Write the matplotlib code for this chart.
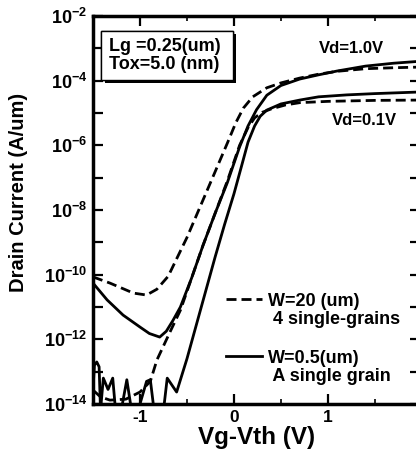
import numpy as np
import matplotlib
matplotlib.use('Agg')
import matplotlib.pyplot as plt
from matplotlib.lines import Line2D
from matplotlib.ticker import FixedLocator, MultipleLocator, FuncFormatter, NullLocator
import matplotlib.patheffects as pe

plt.rcParams['font.family'] = ['Liberation Sans', 'DejaVu Sans']
plt.rcParams['font.weight'] = 'bold'
plt.rcParams['mathtext.fontset'] = 'custom'
plt.rcParams['mathtext.rm'] = 'Liberation Sans:bold'
plt.rcParams['mathtext.it'] = 'Liberation Sans:bold'
plt.rcParams['mathtext.bf'] = 'Liberation Sans:bold'
plt.rcParams['axes.unicode_minus'] = False

# ---------------- data (Vg-Vth in V, log10 of drain current in A/um) ----------------
# W=0.5 um (single grain), Vd=1.0 V  -- solid
vg_s_hi = [-1.50, -1.35, -1.18, -1.00, -0.90, -0.79, -0.72, -0.65, -0.57, -0.45, -0.33,
           -0.20, -0.07, 0.06, 0.15, 0.24, 0.35, 0.50, 0.70, 0.90, 1.10, 1.40, 1.70, 1.98]
logI_s_hi = [-10.26, -10.78, -11.25, -11.62, -11.82, -11.93, -11.75, -11.42, -11.00, -10.10, -9.10,
             -8.10, -7.15, -6.05, -5.40, -4.90, -4.45, -4.15, -3.95, -3.82, -3.70, -3.55, -3.46, -3.40]

# W=20 um (4 single grains), Vd=1.0 V  -- dashed
vg_d_hi = [-1.50, -1.32, -1.07, -0.93, -0.82, -0.70, -0.60, -0.50, -0.36, -0.22, -0.07,
           0.02, 0.10, 0.20, 0.35, 0.50, 0.70, 0.90, 1.10, 1.40, 1.70, 1.98]
logI_d_hi = [-10.07, -10.26, -10.57, -10.63, -10.45, -10.05, -9.45, -8.85, -7.90, -6.95, -5.93,
             -5.30, -4.85, -4.50, -4.22, -4.07, -3.92, -3.80, -3.71, -3.63, -3.60, -3.58]

# W=0.5 um (single grain), Vd=0.1 V  -- solid (noisy off-state)
vg_s_lo = [-1.50, -1.485, -1.46, -1.435, -1.42, -1.39, -1.34, -1.29, -1.26, -1.20, -1.14, -1.09,
           -1.02, -0.93, -0.89, -0.85, -0.75, -0.71, -0.61, -0.50, -0.40, -0.30, -0.20, -0.10,
           0.00, 0.08, 0.15, 0.22, 0.28, 0.35, 0.50, 0.70, 0.90, 1.20, 1.50, 1.98]
logI_s_lo = [-13.55, -12.80, -12.70, -12.85, -14.20, -13.20, -13.55, -13.20, -14.20, -14.20, -13.25, -14.20,
             -14.20, -13.30, -13.25, -14.20, -14.20, -13.20, -13.63, -12.60, -11.55, -10.50, -9.45, -8.45,
             -7.50, -6.65, -5.90, -5.40, -5.10, -4.91, -4.72, -4.60, -4.50, -4.44, -4.40, -4.35]

# W=20 um (4 single grains), Vd=0.1 V  -- dashed
vg_d_lo = [-1.50, -1.42, -1.32, -1.15, -1.00, -0.89, -0.82, -0.68, -0.57, -0.45, -0.33, -0.20,
           -0.07, 0.06, 0.15, 0.22, 0.30, 0.40, 0.55, 0.70, 1.00, 1.50, 1.98]
logI_d_lo = [-13.57, -13.78, -13.88, -13.85, -13.63, -13.30, -12.64, -11.77, -11.10, -10.10, -9.10, -8.10,
             -7.10, -6.00, -5.45, -5.15, -4.98, -4.87, -4.75, -4.68, -4.64, -4.61, -4.60]

x_ticks = [-1, 0, 1, 2]
y_decades = list(range(-14, -1))

lbl_dashed = ["W=20 (um)", " 4 single-grains"]
lbl_solid = ["W=0.5(um)", " A single grain"]

# ---------------- figure ----------------
fig = plt.figure(figsize=(4.16, 4.54), dpi=100)
ax = fig.add_axes([93/416, 50/454, 327/416, 388/454])

lw = 2.0
dash = (0, (3.6, 1.8))
ax.plot(vg_s_hi, 10.0**np.array(logI_s_hi), color='black', lw=lw, ls='-')
l_d, = ax.plot(vg_d_hi, 10.0**np.array(logI_d_hi), color='black', lw=lw, ls=dash)
l_s, = ax.plot(vg_s_lo, 10.0**np.array(logI_s_lo), color='black', lw=lw, ls='-')
ax.plot(vg_d_lo, 10.0**np.array(logI_d_lo), color='black', lw=lw, ls=dash)

ax.set_yscale('log')
ax.set_xlim(-1.5, 1.98)
ax.set_ylim(1e-14, 1e-2)

ax.xaxis.set_major_locator(FixedLocator(x_ticks))
ax.xaxis.set_minor_locator(MultipleLocator(0.5))
ax.yaxis.set_major_locator(FixedLocator([10.0**e for e in y_decades]))
ax.yaxis.set_minor_locator(NullLocator())

def yfmt(v, pos):
    e = int(round(np.log10(v)))
    return r'$10^{%d}$' % e if e % 2 == 0 else ''
ax.yaxis.set_major_formatter(FuncFormatter(yfmt))
ax.xaxis.set_major_formatter(FuncFormatter(lambda v, p: '%d' % v))

ax.tick_params(which='major', direction='in', length=7, width=1.6, top=True, right=True)
ax.tick_params(which='minor', direction='in', length=3.5, width=1.2, top=True, right=True)
ax.tick_params(axis='y', labelsize=13, pad=4)
ax.tick_params(axis='x', labelsize=12.5, pad=4)
for lab in ax.get_xticklabels() + ax.get_yticklabels():
    lab.set_fontweight('bold')
for sp in ax.spines.values():
    sp.set_linewidth(2.5)

ax.set_ylabel('Drain Current (A/um)', fontsize=14.5, fontweight='bold')
ax.yaxis.set_label_coords(-0.2, 0.545)
ax.set_xlabel('Vg-Vth (V)', fontsize=17.5, fontweight='bold', labelpad=1)

# info box with shadow
t = ax.text(0.048, 0.943, 'Lg =0.25(um) \nTox=5.0 (nm)', transform=ax.transAxes,
            ha='left', va='top', fontsize=13, fontweight='bold', linespacing=1.05,
            bbox=dict(boxstyle='square,pad=0.4', fc='white', ec='black', lw=1.0))
t.get_bbox_patch().set_path_effects([
    pe.withSimplePatchShadow(offset=(2.2, -2.2), shadow_rgbFace='black', alpha=1.0),
    pe.Normal()])

ax.text(1.25, 10**-3.0, 'Vd=1.0V', ha='center', va='center', fontsize=12, fontweight='bold')
ax.text(1.39, 10**-5.22, 'Vd=0.1V', ha='center', va='center', fontsize=12, fontweight='bold')

blank = Line2D([], [], color='none')
common = dict(loc='upper left', frameon=False, fontsize=13, handlelength=2.0, handletextpad=0.3,
              labelspacing=0.05, borderpad=0, borderaxespad=0)
leg1 = ax.legend([l_d, blank], lbl_dashed, bbox_to_anchor=(0.407, 0.287), **common)
ax.add_artist(leg1)
leg2 = ax.legend([l_s, blank], lbl_solid, bbox_to_anchor=(0.407, 0.140), **common)
for lg in (leg1, leg2):
    for tx in lg.get_texts():
        tx.set_fontweight('bold')

fig.savefig('out.png', dpi=100)
